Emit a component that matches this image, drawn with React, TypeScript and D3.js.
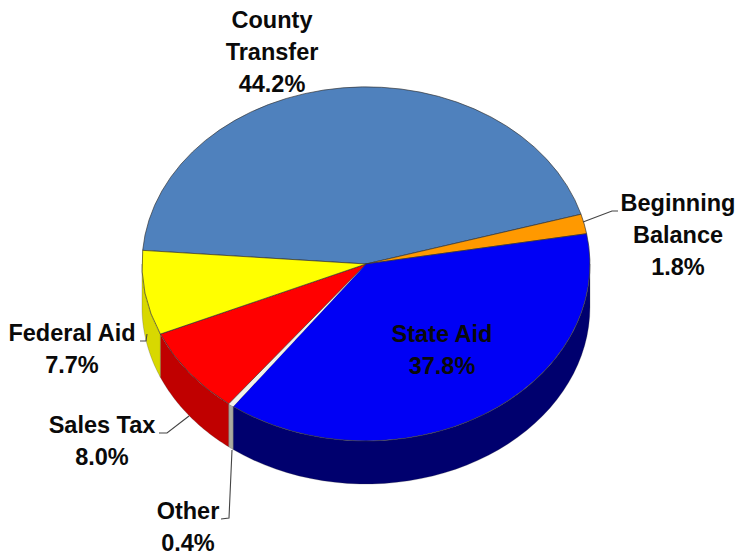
import React from "react";
import * as d3 from "d3";

const categories = ["County Transfer", "Beginning Balance", "State Aid", "Other", "Sales Tax", "Federal Aid"];
const shares = [44.2, 1.8, 37.8, 0.4, 8.0, 7.7];
const topColors = ["#4f81bd", "#ff9900", "#0000f5", "#f2f2ea", "#ff0000", "#ffff00"];
const wallColors = ["#3a6290", "#c87800", "#00006e", "#aaaaa0", "#c00000", "#d8d800"];

const WIDTH = 736;
const HEIGHT = 556;
const CX = 366;
const CY = 264;
const RX = 224;
const RY = 177;
const DEPTH = 43;
const START = (274.4 * Math.PI) / 180;

type Label = { lines: string[]; x: number; y: number; color?: string };
const labels: Label[] = [
  { lines: ["County", "Transfer", "44.2%"], x: 272, y: 28 },
  { lines: ["Beginning", "Balance", "1.8%"], x: 678, y: 211 },
  { lines: ["State Aid", "37.8%"], x: 442, y: 342 },
  { lines: ["Federal Aid", "7.7%"], x: 72, y: 341 },
  { lines: ["Sales Tax", "8.0%"], x: 102, y: 433 },
  { lines: ["Other", "0.4%"], x: 188, y: 519 },
];
const LINE_HEIGHT = 32;

const leaders: [number, number][][] = [
  [[583, 222], [612, 211], [618, 211]],
  [[147, 334], [146, 341], [140, 341]],
  [[189, 416], [167, 433], [159, 433]],
  [[232, 450], [229, 518], [221, 519]],
];

const pie = d3
  .pie<number>()
  .sort(null)
  .startAngle(START)
  .endAngle(START + 2 * Math.PI);
const arcs = pie(shares);

// Angles run clockwise from twelve o'clock, as in d3.arc; this is the rim of the tilted disc.
const rimX = (a: number) => CX + RX * Math.sin(a);
const rimY = (a: number) => CY - RY * Math.cos(a);

const topPath = d3.arc<d3.PieArcDatum<number>>().innerRadius(0).outerRadius(1);

// Side wall of a slice, limited to the front half of the rim, or null when it is hidden.
function wallPath(a0: number, a1: number): string | null {
  const ranges = [0, 2 * Math.PI].map((k) => [
    Math.max(a0, Math.PI / 2 + k),
    Math.min(a1, (3 * Math.PI) / 2 + k),
  ]);
  const visible = ranges.filter(([s, e]) => e > s);
  if (!visible.length) return null;
  return visible
    .map(([s, e]) => {
      const steps = d3.range(0, 41).map((i) => s + ((e - s) * i) / 40);
      const upper = steps.map((a) => [rimX(a), rimY(a)] as [number, number]);
      const lower = steps
        .slice()
        .reverse()
        .map((a) => [rimX(a), rimY(a) + DEPTH] as [number, number]);
      return d3.line()([...upper, ...lower]) + "Z";
    })
    .join("");
}

export default function App() {
  return (
    <svg
      width={WIDTH}
      height={HEIGHT}
      viewBox={`0 0 ${WIDTH} ${HEIGHT}`}
      style={{ position: "absolute", left: 0, top: 0, background: "#fff" }}
    >
      {arcs.map((d, i) => {
        const p = wallPath(d.startAngle, d.endAngle);
        return p ? <path key={i} d={p} fill={wallColors[i]} stroke="#3a3a3a" strokeOpacity={0.35} strokeWidth={0.7} /> : null;
      })}
      <g transform={`translate(${CX},${CY}) scale(${RX},${RY})`}>
        {arcs.map((d, i) => (
          <path
            key={categories[i]}
            d={topPath(d) as string}
            fill={topColors[i]}
            stroke={i === 3 ? "none" : "#333"}
            strokeOpacity={0.75}
            strokeWidth={0.9}
            vectorEffect="non-scaling-stroke"
          />
        ))}
      </g>
      {leaders.map((pts, i) => (
        <path key={i} d={d3.line()(pts) as string} fill="none" stroke="#444" strokeWidth={1.1} />
      ))}
      <g
        fontFamily="'Liberation Sans', Arial, sans-serif"
        fontWeight="bold"
        fontSize={23.5}
        textAnchor="middle"
        fill="#0a0a0a"
      >
        {labels.map((l) => (
          <text key={l.lines[0]} x={l.x} y={l.y}>
            {l.lines.map((t, j) => (
              <tspan key={t} x={l.x} y={l.y + j * LINE_HEIGHT}>
                {t}
              </tspan>
            ))}
          </text>
        ))}
      </g>
    </svg>
  );
}
